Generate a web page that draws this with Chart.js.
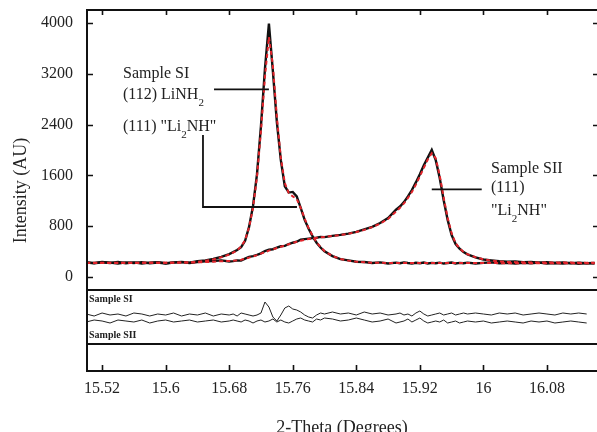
<!DOCTYPE html>
<html>
<head>
<meta charset="utf-8">
<script src="https://cdn.jsdelivr.net/npm/chart.js@4.4.1/dist/chart.umd.min.js"></script>
<style>
  html, body { margin: 0; padding: 0; background: #fff; }
  #wrap { width: 597px; height: 432px; }
</style>
</head>
<body>
<div id="wrap"><canvas id="xrd"></canvas></div>
<script>
// 2-theta positions (degrees)
const twoTheta = [
  15.50, 15.51, 15.52, 15.53, 15.54, 15.55, 15.56, 15.57, 15.58, 15.59,
  15.60, 15.61, 15.62, 15.63, 15.64, 15.65, 15.66, 15.67, 15.68,
  15.685, 15.69, 15.695, 15.70, 15.705, 15.71, 15.715, 15.72, 15.725, 15.73,
  15.735, 15.74, 15.745, 15.75, 15.755, 15.76, 15.765, 15.77, 15.775, 15.78,
  15.785, 15.79, 15.795, 15.80,
  15.81, 15.82, 15.83, 15.84, 15.85, 15.86, 15.87, 15.88, 15.89,
  15.895, 15.90, 15.905, 15.91, 15.915, 15.92, 15.925, 15.93, 15.935, 15.94,
  15.945, 15.95, 15.955, 15.96, 15.965, 15.97, 15.975, 15.98,
  15.99, 16.00, 16.01, 16.02, 16.03, 16.04, 16.05, 16.06, 16.07, 16.08,
  16.09, 16.10, 16.11, 16.12, 16.13, 16.14
];

// Sample SI - observed and fitted intensity
const siObs = [
  228, 215, 232, 222, 236, 218, 230, 212, 226, 234,
  216, 230, 238, 226, 248, 262, 284, 318, 362,
  392, 425, 470, 570, 790, 1120, 1620, 2380, 3280, 3990,
  3240, 2440, 1840, 1430, 1330, 1340, 1270, 1090, 900, 760,
  640, 540, 465, 405,
  330, 282, 262, 240, 236, 222, 230, 214, 226,
  218, 230, 220, 212, 224, 218, 228, 214, 222, 216,
  226, 212, 220, 228, 214, 222, 216, 226,
  214, 222, 230, 216, 224, 212, 222, 216, 226, 212,
  220, 214, 222, 210, 218, 212
];
const siFit = [
  220, 220, 221, 221, 222, 222, 222, 223, 223, 224,
  225, 226, 228, 231, 238, 255, 278, 310, 355,
  385, 420, 480, 580, 780, 1090, 1580, 2300, 3150, 3780,
  3330, 2520, 1880, 1480, 1320, 1270, 1230, 1090, 920, 770,
  650, 550, 470, 410,
  330, 285, 258, 242, 232, 226, 223, 222, 221,
  221, 220, 220, 220, 220, 220, 220, 220, 220, 220,
  220, 220, 220, 220, 219, 219, 219, 219,
  219, 219, 219, 219, 218, 218, 218, 218, 218, 218,
  218, 218, 218, 218, 218, 218
];

// Sample SII - observed and fitted intensity
const siiObs = [
  232, 220, 236, 226, 214, 230, 222, 234, 218, 228,
  214, 226, 234, 222, 236, 246, 252, 262, 244,
  250, 262, 258, 290, 318, 330, 348, 372, 410, 430,
  438, 462, 484, 490, 520, 540, 556, 588, 596, 604,
  612, 618, 632, 628,
  648, 664, 684, 712, 750, 790, 850, 930, 1060,
  1110, 1180, 1270, 1370, 1490, 1620, 1760, 1880, 2000, 1840,
  1560, 1210, 900, 660, 520, 445, 392, 356,
  310, 276, 262, 248, 240, 246, 232, 238, 226, 234,
  222, 230, 218, 226, 216, 222
];
const siiFit = [
  225, 225, 225, 225, 225, 225, 225, 225, 225, 225,
  226, 226, 227, 229, 231, 235, 242, 248, 252,
  256, 262, 272, 288, 306, 324, 345, 368, 392, 415,
  436, 456, 476, 496, 516, 536, 555, 572, 586, 598,
  608, 617, 625, 632,
  646, 662, 682, 708, 742, 785, 840, 915, 1030,
  1090, 1160, 1245, 1340, 1455, 1585, 1720, 1850, 1950, 1870,
  1600, 1250, 930, 690, 535, 450, 395, 358,
  312, 280, 258, 245, 238, 234, 232, 230, 229, 228,
  228, 227, 227, 226, 226, 226
];

// difference curves (obs - fit), arbitrary units
const siResid = [
  1, -1, 2, 0, 1, -1, 2, 1, -1, 1,
  0, 2, -1, 1, 0, 2, -1, 1, 0,
  1, -1, 2, 1, 0, -1, 0, 2, 13, 8,
  -2, -6, 0, 7, 9, 6, 5, 3, 0, -2,
  -3, 0, 2, 1,
  3, 1, 2, 0, 3, 1, 2, 0, 1,
  2, 0, 1, -1, 2, 4, 1, -1, 0, 1,
  2, 0, 1, 2, 0, 1, 2, 1,
  2, 1, 0, 2, 1, 2, 0, 1, 2, 1,
  0, 2, 1, 2, 1, null
];
const siiResid = [
  -1, 1, 0, -2, 1, 0, -1, 1, -2, 0,
  1, -1, 0, 1, -1, 0, 1, -1, 0,
  1, 0, -1, 1, 0, -2, 0, 1, -1, 0,
  2, -1, 1, -1, -2, 0, 2, 3, 1, 0,
  -1, 2, 1, 3,
  2, 0, 1, 3, 1, -1, 0, 2, -2,
  -1, 0, 2, -1, 1, 3, 0, -2, -1, 0,
  -1, 1, -2, -1, 0, -2, -1, 0,
  -1, 0, -2, -1, 0, -1, -2, 0, -1, 0,
  -2, -1, 0, -1, -2, null
];

const xTicks = [15.52, 15.6, 15.68, 15.76, 15.84, 15.92, 16, 16.08];
const yTicks = [0, 800, 1600, 2400, 3200, 4000];

// annotation text, [text, isSubscript] pieces, anchored in data units
const peakNotes = [
  { x: 15.5463, y: 3129, segs: [['Sample SI', 0]] },
  { x: 15.5463, y: 2796, segs: [['(112) LiNH', 0], ['2', 1]] },
  { x: 15.5463, y: 2304, segs: [['(111) "Li', 0], ['2', 1], ['NH"', 0]] },
  { x: 16.0096, y: 1633, segs: [['Sample SII', 0]] },
  { x: 16.0096, y: 1339, segs: [['(111)', 0]] },
  { x: 16.0096, y: 977, segs: [['"Li', 0], ['2', 1], ['NH"', 0]] }
];
const leaderLines = [
  [[15.6609, 2956], [15.730, 2956]],
  [[15.647, 2236], [15.647, 1103], [15.7653, 1103]],
  [[15.935, 1381], [15.9979, 1381]]
];
const residNotes = [
  { x: 15.5035, y: 69, text: 'Sample SI' },
  { x: 15.5035, y: 33, text: 'Sample SII' }
];
const panelEdges = [81, 27];   // on the residual axis
const residBase = { si: 56, sii: 50 };

const serif = "'Liberation Serif', 'Times New Roman', serif";

function pairs(ys, shift) {
  return twoTheta.map((t, i) => ({ x: t, y: ys[i] == null ? null : ys[i] + (shift || 0) }));
}

const framePlugin = {
  id: 'frame',
  afterDraw(chart) {
    const { ctx, chartArea: a, scales } = chart;
    const x = scales.x, y = scales.y, yr = scales.yr;
    ctx.save();
    ctx.strokeStyle = '#111';
    ctx.lineWidth = 2;
    ctx.beginPath();
    ctx.moveTo(a.right + 2, a.top);
    ctx.lineTo(a.left, a.top);
    ctx.lineTo(a.left, a.bottom);
    ctx.lineTo(a.right + 2, a.bottom);
    panelEdges.forEach(v => {
      const py = yr.getPixelForValue(v);
      ctx.moveTo(a.left, py);
      ctx.lineTo(a.right + 2, py);
    });
    ctx.stroke();

    // inward tick marks
    ctx.lineWidth = 1.6;
    ctx.beginPath();
    xTicks.forEach(v => {
      const px = Math.round(x.getPixelForValue(v)) + 0.5;
      ctx.moveTo(px, a.top); ctx.lineTo(px, a.top + 5);
      ctx.moveTo(px, a.bottom); ctx.lineTo(px, a.bottom - 6);
    });
    yTicks.forEach(v => {
      const py = Math.round(y.getPixelForValue(v)) + 0.5;
      ctx.moveTo(a.left, py); ctx.lineTo(a.left + 6, py);
      ctx.moveTo(a.right, py); ctx.lineTo(a.right - 4, py);
    });
    ctx.stroke();

    // leader lines
    ctx.lineWidth = 1.8;
    leaderLines.forEach(line => {
      ctx.beginPath();
      line.forEach((p, i) => {
        const px = x.getPixelForValue(p[0]), py = y.getPixelForValue(p[1]);
        if (i === 0) ctx.moveTo(px, py); else ctx.lineTo(px, py);
      });
      ctx.stroke();
    });

    // peak labels with subscripts
    ctx.fillStyle = '#222';
    ctx.textBaseline = 'alphabetic';
    ctx.textAlign = 'left';
    peakNotes.forEach(n => {
      let px = x.getPixelForValue(n.x);
      const py = y.getPixelForValue(n.y);
      n.segs.forEach(([txt, sub]) => {
        ctx.font = sub ? '11px ' + serif : '16px ' + serif;
        ctx.fillText(txt, px, sub ? py + 7 : py);
        px += ctx.measureText(txt).width;
      });
    });

    ctx.font = 'bold 10px ' + serif;
    residNotes.forEach(n => {
      ctx.fillText(n.text, x.getPixelForValue(n.x), yr.getPixelForValue(n.y));
    });
    ctx.restore();
  }
};

const obsStyle = { borderColor: '#111', borderWidth: 2.4, pointRadius: 0, tension: 0, fill: false, yAxisID: 'y', order: 2 };
const fitStyle = { borderColor: '#e3242b', borderWidth: 2, borderDash: [4, 3], pointRadius: 0, tension: 0, fill: false, yAxisID: 'y', order: 1 };
const resStyle = { borderColor: '#222', borderWidth: 1, pointRadius: 0, tension: 0, fill: false, yAxisID: 'yr', order: 3, spanGaps: false };

new Chart(document.getElementById('xrd').getContext('2d'), {
  type: 'line',
  data: {
    datasets: [
      Object.assign({ label: 'SI observed', data: pairs(siObs) }, obsStyle),
      Object.assign({ label: 'SII observed', data: pairs(siiObs) }, obsStyle),
      Object.assign({ label: 'SI fit', data: pairs(siFit) }, fitStyle),
      Object.assign({ label: 'SII fit', data: pairs(siiFit) }, fitStyle),
      Object.assign({ label: 'SI difference', data: pairs(siResid, residBase.si) }, resStyle),
      Object.assign({ label: 'SII difference', data: pairs(siiResid, residBase.sii) }, resStyle)
    ]
  },
  options: {
    responsive: true,
    maintainAspectRatio: false,
    animation: false,
    layout: { padding: { top: 10, right: 0, bottom: 0, left: 0 } },
    plugins: {
      legend: { display: false },
      tooltip: { enabled: false }
    },
    scales: {
      x: {
        type: 'linear',
        min: 15.501,
        max: 16.143,
        grid: { display: false, drawTicks: false },
        border: { display: false },
        afterBuildTicks: s => { s.ticks = xTicks.map(v => ({ value: v })); },
        afterFit: s => { s.height = 61; s.paddingLeft = 0; s.paddingRight = 0; },
        ticks: {
          autoSkip: false,
          maxRotation: 0,
          padding: 8,
          color: '#222',
          font: { family: serif, size: 16 },
          callback: v => String(Number(v.toFixed(2)))
        },
        title: {
          display: true,
          text: '2-Theta (Degrees)',
          color: '#222',
          font: { family: serif, size: 18, lineHeight: 1 },
          padding: { top: 0, bottom: -5 }
        }
      },
      y: {
        type: 'linear',
        min: -1480,
        max: 4205,
        grid: { display: false, drawTicks: false },
        border: { display: false },
        afterBuildTicks: s => { s.ticks = yTicks.map(v => ({ value: v })); },
        afterFit: s => { s.width = 87; s.paddingTop = 0; s.paddingBottom = 0; },
        ticks: {
          padding: 14,
          color: '#222',
          font: { family: serif, size: 16 },
          callback: v => String(v)
        },
        title: {
          display: true,
          text: 'Intensity (AU)',
          color: '#222',
          font: { family: serif, size: 18 },
          padding: { top: 10, bottom: 0 }
        }
      },
      yr: {
        type: 'linear',
        display: false,
        min: 0,
        max: 361
      }
    }
  },
  plugins: [framePlugin]
});
</script>
</body>
</html>
